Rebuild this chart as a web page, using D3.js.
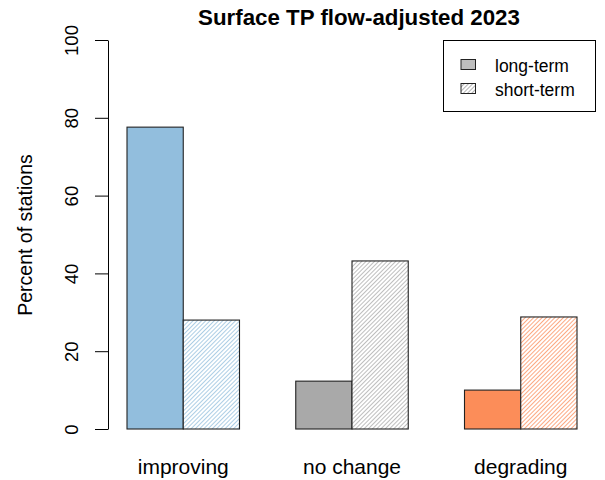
<!DOCTYPE html>
<html>
<head>
<meta charset="utf-8">
<script src="https://cdn.jsdelivr.net/npm/d3@7"></script>
<style>
  body { margin: 0; background: #fff; }
  text { font-family: "Liberation Sans", Arial, sans-serif; }
</style>
</head>
<body>
<svg id="chart" width="605" height="480"></svg>
<script>
// chart data
const categories = ["improving", "no change", "degrading"];
const seriesNames = ["long-term", "short-term"];
const longTerm = [77.6, 12.3, 10.0];
const shortTerm = [28.0, 43.2, 28.8];
const yTicks = [0, 20, 40, 60, 80, 100];
const categoryColors = ["#92BEDD", "#A9A9A9", "#FC8D59"];

const svg = d3.select("#chart");

// plot area
const plotLeft = 108, plotTop = 40, plotBottom = 429;
const barLeft = 127, barRight = 577;

const y = d3.scaleLinear().domain([0, 100]).range([plotBottom, plotTop]);

const xGroup = d3.scaleBand()
    .domain(categories)
    .range([barLeft, barRight])
    .paddingInner(1 / 3)
    .paddingOuter(0);

const xSeries = d3.scaleBand()
    .domain(seriesNames)
    .range([0, xGroup.bandwidth()]);

// hatch patterns, one per colour
const defs = svg.append("defs");
function addHatch(id, color) {
    const p = defs.append("pattern")
        .attr("id", id)
        .attr("patternUnits", "userSpaceOnUse")
        .attr("width", 3)
        .attr("height", 3)
        .attr("patternTransform", "rotate(45)");
    p.append("rect").attr("width", 3).attr("height", 3).attr("fill", "#fff");
    p.append("line")
        .attr("x1", 0).attr("y1", 0).attr("x2", 0).attr("y2", 3)
        .attr("stroke", color)
        .attr("stroke-width", 1.5);
}
categoryColors.forEach((c, i) => addHatch("hatch" + i, c));
addHatch("hatchLegend", "#9a9a9a");

// bars
const rows = categories.map((c, i) => ({
    cat: c, idx: i,
    values: [
        { series: "long-term", value: longTerm[i] },
        { series: "short-term", value: shortTerm[i] }
    ]
}));

const groups = svg.append("g").selectAll("g")
    .data(rows)
    .join("g")
    .attr("transform", d => `translate(${xGroup(d.cat)},0)`);

groups.selectAll("rect")
    .data(d => d.values.map(v => ({ ...v, idx: d.idx })))
    .join("rect")
    .attr("x", d => xSeries(d.series))
    .attr("y", d => y(d.value))
    .attr("width", xSeries.bandwidth())
    .attr("height", d => y(0) - y(d.value))
    .attr("fill", d => d.series === "long-term" ? categoryColors[d.idx] : `url(#hatch${d.idx})`)
    .attr("stroke", "#222")
    .attr("stroke-width", 1.1);

// y axis
const yAxis = svg.append("g")
    .attr("transform", `translate(${plotLeft},0)`)
    .call(d3.axisLeft(y).tickValues(yTicks).tickSize(13).tickSizeOuter(0));
yAxis.select(".domain").attr("stroke", "#000").attr("stroke-width", 1);
yAxis.selectAll(".tick line").attr("stroke", "#000");
yAxis.selectAll(".tick text")
    .attr("font-size", 18.5)
    .attr("fill", "#000")
    .attr("text-anchor", "middle")
    .attr("x", 0)
    .attr("y", 0)
    .attr("dy", "0.35em")
    .attr("transform", "translate(-36,0) rotate(-90)");

// category labels
svg.append("g").selectAll("text")
    .data(categories)
    .join("text")
    .attr("x", d => xGroup(d) + xGroup.bandwidth() / 2)
    .attr("y", 474)
    .attr("text-anchor", "middle")
    .attr("font-size", 21)
    .text(d => d);

// axis title
svg.append("text")
    .attr("transform", "translate(32,235) rotate(-90)")
    .attr("text-anchor", "middle")
    .attr("font-size", 19.5)
    .text("Percent of stations");

// chart title
svg.append("text")
    .attr("x", 359)
    .attr("y", 25)
    .attr("text-anchor", "middle")
    .attr("font-size", 22.3)
    .attr("font-weight", "bold")
    .text("Surface TP flow-adjusted 2023");

// legend
const legend = svg.append("g");
legend.append("rect")
    .attr("x", 443.5).attr("y", 40.5)
    .attr("width", 152).attr("height", 71)
    .attr("fill", "#fff").attr("stroke", "#000");

const legendFills = ["#BEBEBE", "url(#hatchLegend)"];
seriesNames.forEach((name, i) => {
    const ly = 71.5 + i * 24;
    legend.append("rect")
        .attr("x", 461).attr("y", ly - 12)
        .attr("width", 14.5).attr("height", 10)
        .attr("fill", legendFills[i])
        .attr("stroke", "#222");
    legend.append("text")
        .attr("x", 495).attr("y", ly)
        .attr("font-size", 17.5)
        .text(name);
});
</script>
</body>
</html>
